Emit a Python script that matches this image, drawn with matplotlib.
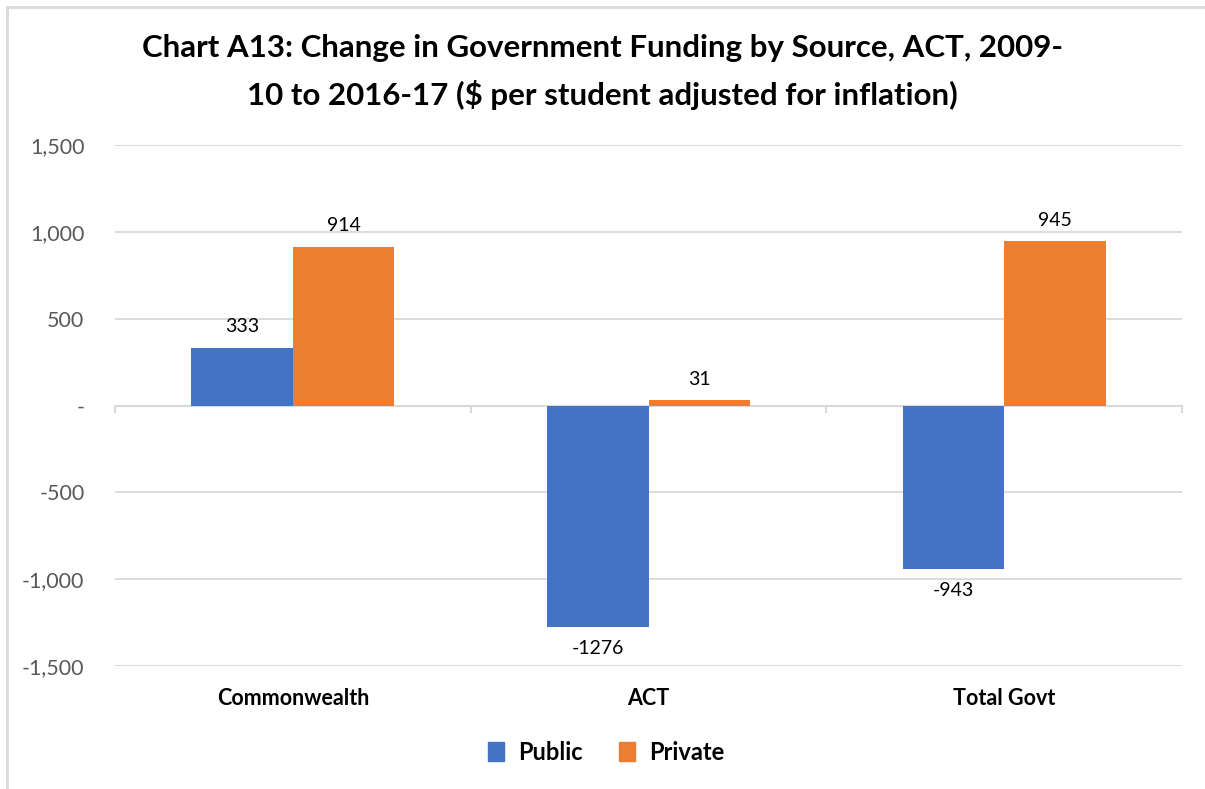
import matplotlib.pyplot as plt
import matplotlib.transforms as mtransforms
import numpy as np
from matplotlib.lines import Line2D
from matplotlib.patches import Rectangle

categories = ["Commonwealth", "ACT", "Total Govt"]
public = [333, -1276, -943]
private = [914, 31, 945]
series_names = ["Public", "Private"]
yticks = [1500, 1000, 500, 0, -500, -1000, -1500]

BLUE = "#4472C4"
ORANGE = "#ED7D31"
GRID = "#D9D9D9"
TICK_TXT = "#595959"

plt.rcParams["font.family"] = ["Lato", "DejaVu Sans"]

fig = plt.figure(figsize=(12.05, 7.89), dpi=100)

# outer chart border (only top and left edges show)
fig.add_artist(Line2D([7 / 1205, 7 / 1205], [0, 1 - 7 / 789], color=GRID, lw=2, transform=fig.transFigure))
fig.add_artist(Line2D([7 / 1205, 1], [1 - 7 / 789, 1 - 7 / 789], color=GRID, lw=2, transform=fig.transFigure))

ax = fig.add_axes([115 / 1205, 1 - 666 / 789, (1182 - 115) / 1205, (666 - 145) / 789])

x = np.arange(len(categories))
w = 0.285
b1 = ax.bar(x - w / 2, public, w, color=BLUE, label=series_names[0], zorder=3)
b2 = ax.bar(x + w / 2, private, w, color=ORANGE, label=series_names[1], zorder=3)

for bars in (b1, b2):
    for bar in bars:
        v = bar.get_height()
        cx = bar.get_x() + bar.get_width() / 2
        off = 9 if v >= 0 else -9
        ax.annotate(f"{v:d}", (cx, v), xytext=(0, off), textcoords="offset points",
                    ha="center", va="bottom" if v >= 0 else "top",
                    fontsize=14, color="black")

ax.set_xlim(-0.5, len(categories) - 0.5)
ax.set_ylim(-1500, 1500)
ax.set_yticks(yticks)
ax.set_yticklabels([f"{t:,}" if t != 0 else "-" for t in yticks], fontsize=15.5, color=TICK_TXT)
ax.yaxis.grid(True, color=GRID, lw=1.3, zorder=0)
ax.tick_params(axis="y", length=0, pad=22)

for s in ax.spines.values():
    s.set_visible(False)

# category axis at zero with tick marks at category boundaries
ax.axhline(0, color=GRID, lw=1.5, zorder=2)
for xb in np.arange(-0.5, len(categories), 1.0):
    ax.plot([xb, xb], [0, -40], color=GRID, lw=1.5, zorder=2, clip_on=False)

ax.set_xticks(x)
ax.set_xticklabels([])
ax.tick_params(axis="x", length=0)
below = ax.transData + mtransforms.ScaledTranslation(0, -22 / 100, fig.dpi_scale_trans)
for xi, c in zip(x, categories):
    ax.text(xi, -1500, c, ha="center", va="top", fontsize=15.5, fontweight="bold",
            transform=below)

fig.text(0.5, 1 - 48 / 789, "Chart A13: Change in Government Funding by Source, ACT, 2009-",
         ha="center", va="center", fontsize=22.5, fontweight="bold")
fig.text(0.5, 1 - 95 / 789, "10 to 2016-17 ($ per student adjusted for inflation)",
         ha="center", va="center", fontsize=22.5, fontweight="bold")

fig.legend(handles=[Rectangle((0, 0), 1, 1, color=BLUE), Rectangle((0, 0), 1, 1, color=ORANGE)],
           labels=series_names, loc="center", bbox_to_anchor=(0.503, 1 - 752 / 789),
           ncol=2, frameon=False, handlelength=0.7, handleheight=0.9,
           handletextpad=0.6, columnspacing=1.5,
           prop={"size": 17, "weight": "bold"})

fig.savefig("out.png", dpi=100, facecolor="white")
